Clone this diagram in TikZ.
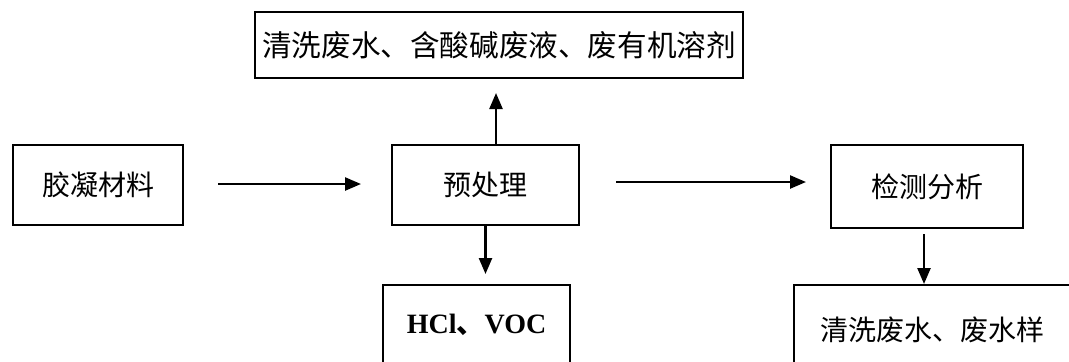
\documentclass[tikz,border=0pt]{standalone}
\usepackage{fontspec}
\setmainfont{Liberation Serif}
\newfontfamily\cjk{Noto Sans CJK SC}
\usepackage{tikz}
\usetikzlibrary{arrows.meta,positioning}
\tikzset{
  >={Triangle[length=8pt,width=6.5pt]},
  box/.style ={draw, line width=1pt, inner sep=0pt, font=\fontsize{14}{16}\selectfont\cjk},
  flow/.style={->, line width=1.2pt}
}
\begin{document}
\begin{tikzpicture}[x=0.5pt,y=-0.5pt]
\useasboundingbox (0,0) rectangle (1069,361);
\clip (0,0) rectangle (1069,361);
\node[box, minimum width=85pt,  minimum height=40pt]   (raw)   at (98,185)    {胶凝材料};
\node[box, minimum width=93.5pt, minimum height=40pt]  (pre)   at (485.5,185) {预处理};
\node[box, minimum width=96pt,  minimum height=41.5pt] (test)  at (927,186.5) {检测分析};
\node[box, minimum width=244pt, minimum height=33pt,
      font=\fontsize{14.8}{16}\selectfont\cjk]        (waste) at (499,45)    {清洗废水、含酸碱废液、废有机溶剂};
\node[box, minimum width=93.5pt, minimum height=40pt,
      font=\fontsize{14}{16}\selectfont\bfseries]     (gas)   at (476.5,325) {HCl{\cjk 、}VOC};
\node[box, minimum width=138pt, minimum height=45pt]   (sample) at (932,330) {清洗废水、废水样};

\draw[flow, shorten <=17pt, shorten >=15pt] (raw.east |- 0,184) -- (pre.west |- 0,184);
\draw[flow, shorten <=18pt, shorten >=12pt] (pre.east |- 0,182) -- (test.west |- 0,182);
\draw[flow, shorten >=7pt] ([xshift=5.25pt]pre.north) -- ([xshift=5.25pt]pre.north |- waste.south);
\draw[flow, shorten >=5pt] (pre.south) -- (pre.south |- gas.north);
\draw[flow, shorten <=2.5pt] ([xshift=-1.5pt]test.south) -- ([xshift=-1.5pt]test.south |- sample.north);
\end{tikzpicture}
\end{document}
